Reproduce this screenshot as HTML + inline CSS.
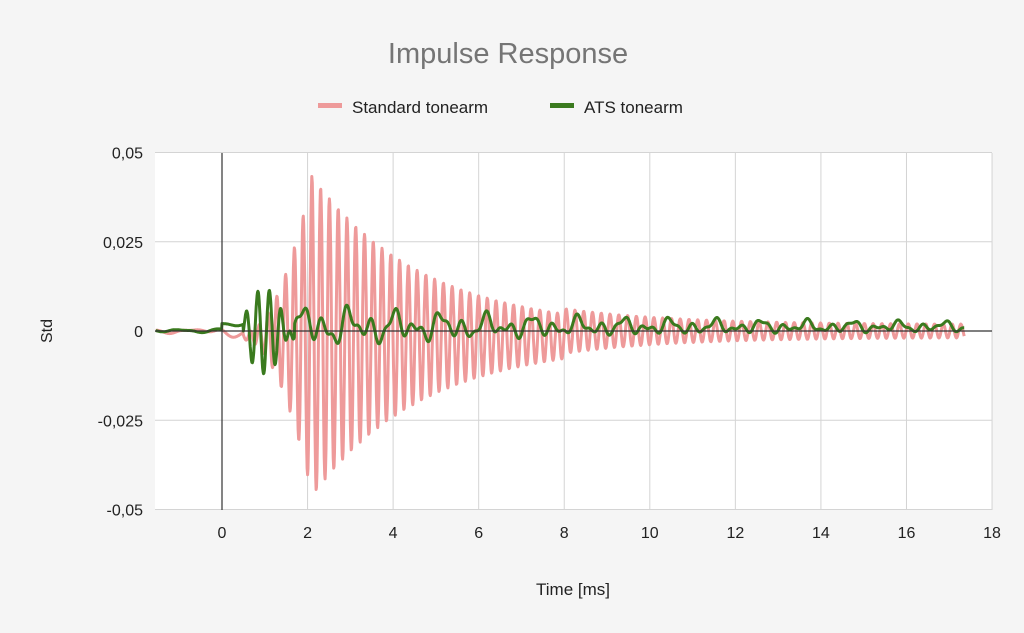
<!DOCTYPE html>
<html><head><meta charset="utf-8"><style>
html,body{margin:0;padding:0;background:#f5f5f5;}
svg{display:block;font-family:"Liberation Sans",sans-serif;}
</style></head><body>
<svg id="c" width="1024" height="633" viewBox="0 0 1024 633">
<rect width="1024" height="633" fill="#f5f5f5"/>
<text x="508" y="63" text-anchor="middle" font-size="29" fill="#757575">Impulse Response</text>
<rect x="318" y="103" width="24" height="5" fill="#ee9a9a"/>
<text x="352" y="113" font-size="17" fill="#222">Standard tonearm</text>
<rect x="550" y="103" width="24" height="5" fill="#3a7a1e"/>
<text x="584" y="113" font-size="17" fill="#222">ATS tonearm</text>
<rect x="155" y="153" width="837" height="357" fill="#fff"/>
<g id="grid" stroke="#d4d4d4" stroke-width="1"></g>
<g font-size="16" fill="#222" id="labels"></g>
<text x="47" y="331" font-size="16" fill="#222" text-anchor="middle" transform="rotate(-90 47 331)" dy="5">Std</text>
<text x="573" y="595" font-size="17" fill="#222" text-anchor="middle">Time [ms]</text>
<path id="red" fill="none" stroke="#ee9a9a" stroke-width="3" stroke-linejoin="round"/>
<path id="grn" fill="none" stroke="#3a7a1e" stroke-width="3" stroke-linejoin="round"/>
<line x1="222" y1="153" x2="222" y2="510" stroke="#333" stroke-width="1.2"/>
<line x1="155" y1="331" x2="992" y2="331" stroke="#333" stroke-width="1.2"/>
</svg>
<script>
var X=function(t){return 222+t*42.78;}, Y=function(v){return 331-v*3570;};
var g=document.getElementById('grid'),L=document.getElementById('labels'),ns='http://www.w3.org/2000/svg';
function el(p,n,a,txt){var e=document.createElementNS(ns,n);for(var k in a)e.setAttribute(k,a[k]);if(txt!=null)e.textContent=txt;p.appendChild(e);}
for(var i=0;i<=9;i++){var x=X(i*2);if(i>0)el(g,'line',{x1:x,y1:153,x2:x,y2:510});el(L,'text',{x:x,y:538,'text-anchor':'middle'},String(i*2));}
var yl=[[0.05,'0,05'],[0.025,'0,025'],[0,'0'],[-0.025,'-0,025'],[-0.05,'-0,05']];
yl.forEach(function(a){var y=Y(a[0]);el(g,'line',{x1:155,y1:y,x2:992,y2:y});el(L,'text',{x:143,y:y+6,'text-anchor':'end'},a[1]);});
var r='',gr='';
function n(t,s){return Math.sin(t*7.3+s)*0.5+Math.sin(t*13.1+2*s)*0.3+Math.sin(t*3.7+s*3)*0.4;}
for(var t=-1.55;t<=17.35;t+=0.01){
 var A;
 if(t<0.5)A=0.001;else if(t<2.1)A=0.001+0.043*Math.pow((t-0.5)/1.6,2);else A=0.043*Math.exp(-(t-2.1)/2.6)+0.0018;
 var v=A*Math.sin(2*Math.PI*t/0.205)-0.0015*(t>0.5&&t<8?1:0);
 if(t<0.5)v=0.0006*n(t,1)-(t>0&&t<0.5?0.0015*Math.sin(Math.PI*t/0.5):0);
 r+=(r?'L':'M')+X(t).toFixed(1)+' '+Y(v).toFixed(1);
 var w;
 if(t<0)w=0.0005*n(t,2)+0.0008*Math.max(0,(t+0.6));
 else if(t<0.5)w=0.002+0.0006*n(t,3);
 else if(t<1.7)w=0.012*Math.sin(2*Math.PI*(t-0.5)/0.27)*Math.sin(Math.PI*(t-0.5)/1.2+0.3);
 else{var B=0.0055*Math.exp(-(t-1.7)/6)+0.0012;w=B*n(t*1.6,5)+0.0012;}
 gr+=(gr?'L':'M')+X(t).toFixed(1)+' '+Y(w).toFixed(1);
}
document.getElementById('red').setAttribute('d',r);
document.getElementById('grn').setAttribute('d',gr);
</script>
</body></html>
